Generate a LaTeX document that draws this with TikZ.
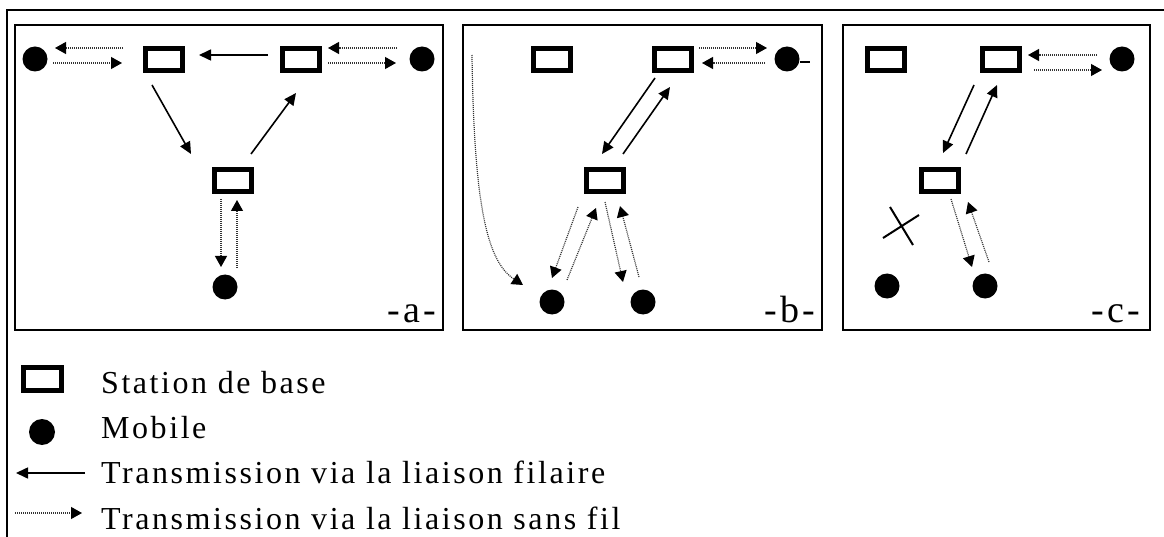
\documentclass[tikz,border=0pt]{standalone}
\usepackage{fontspec}
\setmainfont{Liberation Serif}[LetterSpace=8]
\usetikzlibrary{arrows.meta}

\begin{document}
\begin{tikzpicture}[x=1pt, y=-1pt, % one unit = 1pt, y grows downwards
    station/.style={rectangle, draw, line width=5pt, minimum width=37pt, minimum height=22pt, inner sep=0pt},
    mobile/.style={circle, fill, minimum size=25pt, inner sep=0pt},
    wired/.style={line width=1.6pt, -{Triangle[length=12pt, width=11pt]}},
    wireless/.style={line width=1.2pt, draw=black!80, dash pattern=on 1pt off 1pt, -{Triangle[length=11pt, width=12pt, black]}},
    panel/.style={line width=2pt},
    caselabel/.style={anchor=base east, inner sep=0pt, font=\fontsize{38}{38}\selectfont},
    legend/.style={anchor=base west, inner sep=0pt, font=\fontsize{32}{36}\selectfont}]
        \useasboundingbox (0,0) rectangle (1164,537);
        % Frame
        \draw[line width=2pt] (7,537) -- (7,10) -- (1164,10);
        \draw[panel] (15,25) rectangle (443,330);
        \draw[panel] (463,25) rectangle (822,330);
        \draw[panel] (843,25) rectangle (1150,330);

        % Case a
        \node[station] (ba1) at (164,59.5) {};
        \node[station] (ba2) at (301,59.5) {};
        \node[station] (ba3) at (232.5,180.5) {};
        \node[mobile] (ma1) at (35,59) {};
        \node[mobile] (ma2) at (422,59) {};
        \node[mobile] (ma3) at (225,287) {};
        \draw[wireless] ([shift={(-41,-11.5)}]ba1.center) -- ([shift={(20,-11)}]ma1.center);
        \draw[wireless] ([shift={(18,4)}]ma1.center) -- ([shift={(-42,3.5)}]ba1.center);
        \draw[wired] ([shift={(-33,-4.5)}]ba2.center) -- ([shift={(35,-4.5)}]ba1.center);
        \draw[wireless] ([shift={(-25,-11)}]ma2.center) -- ([shift={(27,-11.5)}]ba2.center);
        \draw[wireless] ([shift={(27,3.5)}]ba2.center) -- ([shift={(-26,4)}]ma2.center);
        \draw[wired] ([shift={(-12,25.5)}]ba1.center) -- ([shift={(-41.5,-26.5)}]ba3.center);
        \draw[wired] ([shift={(18.5,-26.5)}]ba3.center) -- ([shift={(-5,33.5)}]ba2.center);
        \draw[wireless] ([shift={(-11.5,18.5)}]ba3.center) -- ([shift={(-4,-20)}]ma3.center);
        \draw[wireless] ([shift={(12,-19)}]ma3.center) -- ([shift={(4.5,19.5)}]ba3.center);
        \node[caselabel] (casea) at (436,322) {-a-};

        % Case b
        \node[station] (bb1) at (551.5,59.5) {};
        \node[station] (bb2) at (673,59.5) {};
        \node[station] (bb3) at (605,180.5) {};
        \node[mobile] (mb1) at (787,59) {};
        \node[mobile] (mb2) at (552,302) {};
        \node[mobile] (mb3) at (643,302) {};
        \draw[line width=1.4pt] ([yshift=-3pt]mb1.east) -- ++(10,0);
        \draw[wireless] ([shift={(26,-11.5)}]bb2.center) -- ([shift={(-20,-11)}]mb1.center);
        \draw[wireless] ([shift={(-22,4)}]mb1.center) -- ([shift={(29,3.5)}]bb2.center);
        \draw[wired] ([shift={(-18,18.5)}]bb2.center) -- ([shift={(-3,-26.5)}]bb3.center);
        \draw[wired] ([shift={(18,-26.5)}]bb3.center) -- ([shift={(-3,27.5)}]bb2.center);
        \draw[wireless] ([shift={(-27,26.5)}]bb3.center) -- ([shift={(0,-24)}]mb2.center);
        \draw[wireless] ([shift={(15,-22)}]mb2.center) -- ([shift={(-9,27.5)}]bb3.center);
        \draw[wireless] ([shift={(0,21.5)}]bb3.center) -- ([shift={(-20,-20)}]mb3.center);
        \draw[wireless] ([shift={(-4,-25)}]mb3.center) -- ([shift={(15,25.5)}]bb3.center);
        % path of the moving mobile
        \coordinate (drift) at (472,55);
        \draw[wireless] (drift) .. controls (474,210) and (488,262) .. ([shift={(-29,-17)}]mb2.center);
        \node[caselabel] (caseb) at (815,322) {-b-};

        % Case c
        \node[station] (bc1) at (886,59.5) {};
        \node[station] (bc2) at (1000.5,59.5) {};
        \node[station] (bc3) at (939.5,180.5) {};
        \node[mobile] (mc1) at (1122,59) {};
        \node[mobile] (mc2) at (887,286) {};
        \node[mobile] (mc3) at (985,286) {};
        \draw[wireless] ([shift={(-25,-4)}]mc1.center) -- ([shift={(27.5,-4.5)}]bc2.center);
        \draw[wireless] ([shift={(33.5,10.5)}]bc2.center) -- ([shift={(-20,11)}]mc1.center);
        \draw[wired] ([shift={(-26.5,25.5)}]bc2.center) -- ([shift={(3.5,-27.5)}]bc3.center);
        \draw[wired] ([shift={(26.5,-26.5)}]bc3.center) -- ([shift={(-3.5,25.5)}]bc2.center);
        \draw[wireless] ([shift={(11.5,18.5)}]bc3.center) -- ([shift={(-13,-19)}]mc3.center);
        \draw[wireless] ([shift={(4,-24)}]mc3.center) -- ([shift={(28.5,21.5)}]bc3.center);
        % broken link
        \draw[line width=2pt] (883,238) -- (919,215) (890,207) -- (913,245);
        \node[caselabel] (casec) at (1140,322) {-c-};

        % Legend
        \node[station, minimum width=38pt, minimum height=23pt] (keybs) at (42.5,379) {};
        \node[mobile, minimum size=26pt] (keymob) at (42,432) {};
        \coordinate (keywiredA) at (85,473);
        \coordinate (keywiredB) at (16,473);
        \coordinate (keyradioA) at (15,513);
        \coordinate (keyradioB) at (82,513);
        \draw[wired] (keywiredA) -- (keywiredB);
        \draw[wireless] (keyradioA) -- (keyradioB);
        \node[legend] (txtbs) at (101,393) {Station de base};
        \node[legend] (txtmob) at (101,438) {Mobile};
        \node[legend] (txtwired) at (101,483) {Transmission via la liaison filaire};
        \node[legend] (txtradio) at (101,529) {Transmission via la liaison sans fil};
    \end{tikzpicture}
\end{document}
